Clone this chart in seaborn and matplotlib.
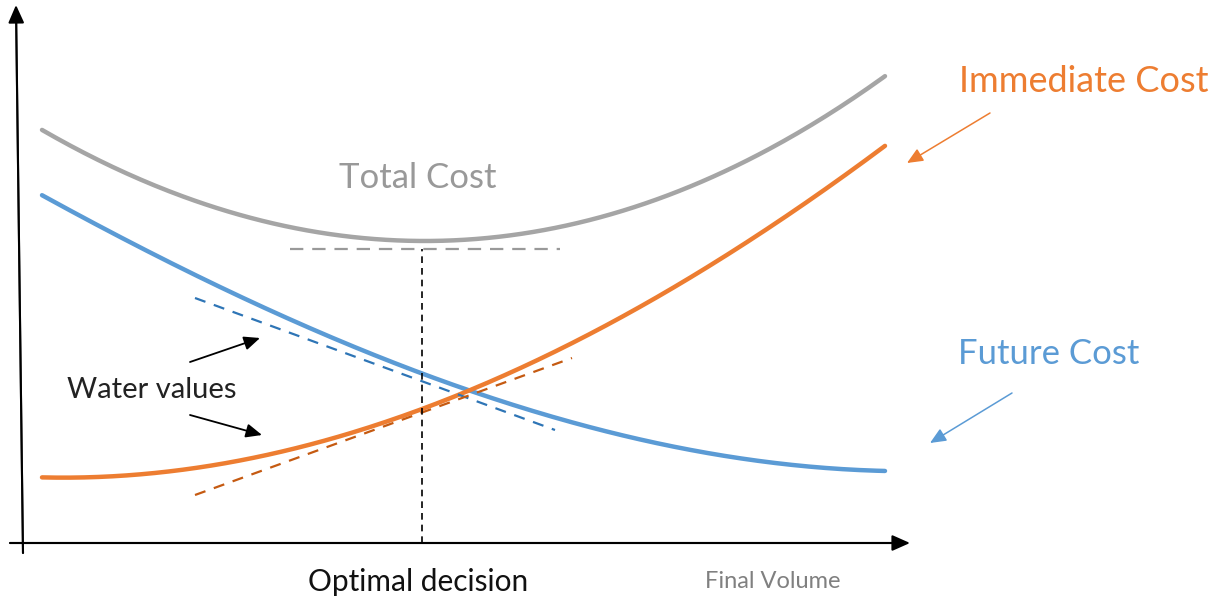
import numpy as np
import pandas as pd
import matplotlib
matplotlib.use("Agg")
import matplotlib.pyplot as plt
import seaborn as sns

# ---- data (x = final volume, y = cost) ----
volume = [20, 78, 178, 278, 378, 398, 478, 578, 678, 778, 863]
total_cost = [410, 385, 343, 315, 300, 299, 307, 325, 363, 413, 465]

future_x = [20, 78, 178, 278, 378, 448, 528, 628, 728, 863]
future_cost = [346, 318, 268, 218, 178, 151, 125, 103, 85, 71]

immediate_x = [20, 78, 178, 278, 378, 448, 528, 628, 728, 863]
immediate_cost = [65, 66, 76, 98, 128, 151, 183, 243, 308, 395]

future_tangent_x = [173, 533]
future_tangent_y = [245, 113]
immediate_tangent_x = [173, 550]
immediate_tangent_y = [48, 185]
total_level_x = [268, 538]
total_level_y = [294, 294]
optimal_x = 400

sns.set_theme(style="white")
plt.rcParams['font.family'] = ['Lato', 'DejaVu Sans']

fig = plt.figure(figsize=(12.27, 6.03), dpi=100)
ax = fig.add_axes([0, 0, 1, 1])
ax.set_xlim(-22, 1205)
ax.set_ylim(-60, 543)
ax.axis("off")

GRAY = "#A5A5A5"
BLUE = "#5B9BD5"
ORANGE = "#ED7D31"

df_t = pd.DataFrame({"x": volume, "y": total_cost})
df_f = pd.DataFrame({"x": future_x, "y": future_cost})
df_i = pd.DataFrame({"x": immediate_x, "y": immediate_cost})

def smooth(df):
    xs = np.linspace(df.x.min(), df.x.max(), 300)
    c = np.polyfit(df.x, df.y, 3)
    return pd.DataFrame({"x": xs, "y": np.polyval(c, xs)})

sns.lineplot(data=smooth(df_t), x="x", y="y", ax=ax, color=GRAY, lw=3.2, solid_capstyle="round")
sns.lineplot(data=smooth(df_f), x="x", y="y", ax=ax, color=BLUE, lw=3.2, solid_capstyle="round")
sns.lineplot(data=smooth(df_i), x="x", y="y", ax=ax, color=ORANGE, lw=3.2, solid_capstyle="round")

# tangents / guides
ax.plot(future_tangent_x, future_tangent_y, color="#2E75B6", lw=1.6, dashes=(5, 4))
ax.plot(immediate_tangent_x, immediate_tangent_y, color="#C55A11", lw=1.6, dashes=(5, 4))
ax.plot(total_level_x, total_level_y, color="#999999", lw=1.6, dashes=(6, 4))
ax.plot([optimal_x, optimal_x], [0, 294], color="black", lw=1.2, dashes=(4, 3))

# axes arrows
ax.annotate("", xy=(-6, 538), xytext=(1, -10),
            arrowprops=dict(arrowstyle="-|>,head_length=0.9,head_width=0.4", color="black", lw=1.5,
                            shrinkA=0, shrinkB=0))
ax.plot([-6, 1], [532, -10], color="#555555", lw=1.5)
ax.annotate("", xy=(888, 0), xytext=(-12, 0),
            arrowprops=dict(arrowstyle="-|>,head_length=0.9,head_width=0.4", color="black", lw=1.5,
                            shrinkA=0, shrinkB=0))
ax.plot([-12, 880], [0, 0], color="#555555", lw=1.5)

# texts
ax.text(396, 365, "Total Cost", color="#999999", fontsize=25, ha="center", va="center")
ax.text(1062, 461, "Immediate Cost", color=ORANGE, fontsize=26, ha="center", va="center")
ax.text(1027, 189, "Future Cost", color=BLUE, fontsize=25, ha="center", va="center")
ax.text(130, 153, "Water values", color="#222222", fontsize=21, ha="center", va="center")
ax.text(396, -39, "Optimal decision", color="#111111", fontsize=21.5, ha="center", va="center")
ax.text(751, -38, "Final Volume", color="#808080", fontsize=17, ha="center", va="center")

# annotation arrows
arrow_k = dict(arrowstyle="-|>,head_length=0.8,head_width=0.35", color="black", lw=1.3, shrinkA=0, shrinkB=0)
ax.annotate("", xy=(238, 205), xytext=(168, 181), arrowprops=arrow_k)
ax.annotate("", xy=(240, 108), xytext=(168, 128), arrowprops=arrow_k)
ax.annotate("", xy=(885, 380), xytext=(968, 430),
            arrowprops=dict(arrowstyle="-|>,head_length=0.8,head_width=0.35", color=ORANGE, lw=1.1,
                            shrinkA=0, shrinkB=0))
ax.annotate("", xy=(908, 100), xytext=(990, 150),
            arrowprops=dict(arrowstyle="-|>,head_length=0.8,head_width=0.35", color=BLUE, lw=1.1,
                            shrinkA=0, shrinkB=0))

fig.savefig("out.png", dpi=100, facecolor="white")
